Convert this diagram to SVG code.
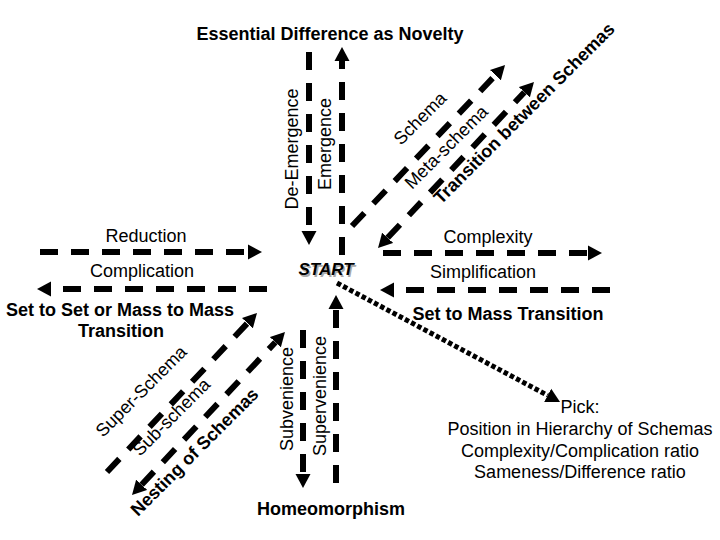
<svg xmlns="http://www.w3.org/2000/svg" width="720" height="540" viewBox="0 0 720 540">
<defs>
<marker id="ah" markerUnits="userSpaceOnUse" markerWidth="16" markerHeight="16" viewBox="0 -8 16 16" refX="0" refY="0" orient="auto-start-reverse">
<path d="M0,-7.5 L14,0 L0,7.5 z" fill="#000"/>
</marker>
</defs>
<style>
text{font-family:"Liberation Sans",Arial,sans-serif;font-size:18px;fill:#000}
.b{font-weight:bold}
.m{text-anchor:middle}
.d{fill:none;stroke:#000;stroke-width:6;stroke-dasharray:18 13}
.dot{fill:none;stroke:#000;stroke-width:5;stroke-dasharray:4.5 2.5}
.a{marker-end:url(#ah)}
.aa{marker-start:url(#ah);marker-end:url(#ah)}
</style>
<rect width="720" height="540" fill="#fff"/>
<g id="connectors">
<line class="d a" x1="40" y1="252" x2="248" y2="252"/>
<line class="d a" x1="267" y1="289" x2="51" y2="289"/>
<line class="d a" x1="383" y1="253" x2="588" y2="253"/>
<line class="d a" x1="610" y1="290" x2="394" y2="290"/>
<line class="d a" x1="309" y1="52" x2="309" y2="231"/>
<line class="d a" x1="342" y1="255" x2="342" y2="61"/>
<line class="d a" x1="303" y1="330" x2="303" y2="474"/>
<line class="d a" x1="336" y1="483" x2="336" y2="309"/>
<line class="d a" x1="352" y1="226" x2="495.4" y2="75.2"/>
<line class="d aa" x1="387.6" y1="237.8" x2="524.4" y2="92.2"/>
<line class="d a" x1="107" y1="472" x2="247.4" y2="323.2"/>
<line class="d aa" x1="141.6" y1="484.8" x2="275.4" y2="342.2"/>
<line class="dot a" x1="337" y1="283" x2="547.7" y2="395.4"/>
</g>
<g id="title"><text class="b m" x="330" y="40">Essential Difference as Novelty</text></g>
<g id="start">
<text class="b m" x="327.5" y="276.5" style="font-style:italic;fill:#aaa;font-size:17px">START</text>
<text class="b m" x="326" y="275" style="font-style:italic;font-size:17px">START</text>
</g>
<g id="reduction"><text class="m" x="146" y="242">Reduction</text></g>
<g id="complication"><text class="m" x="142" y="277">Complication</text></g>
<g id="complexity"><text class="m" x="488" y="243">Complexity</text></g>
<g id="simplification"><text class="m" x="483" y="278">Simplification</text></g>
<g id="set-to-mass"><text class="b m" x="508" y="320">Set to Mass Transition</text></g>
<g id="set-to-set">
<text class="b m" x="120" y="316">Set to Set or Mass to Mass</text>
<text class="b m" x="121" y="337">Transition</text>
</g>
<g id="homeomorphism"><text class="b m" x="331" y="515">Homeomorphism</text></g>
<g id="pick">
<text class="m" x="580" y="413">Pick:</text>
<text class="m" x="580" y="435">Position in Hierarchy of Schemas</text>
<text class="m" x="580" y="457">Complexity/Complication ratio</text>
<text class="m" x="580" y="478">Sameness/Difference ratio</text>
</g>
<g id="de-emergence"><text class="m" transform="translate(298,149) rotate(-90)">De-Emergence</text></g>
<g id="emergence"><text class="m" transform="translate(331,144) rotate(-90)">Emergence</text></g>
<g id="subvenience"><text class="m" transform="translate(293,399) rotate(-90)">Subvenience</text></g>
<g id="supervenience"><text class="m" transform="translate(326,396) rotate(-90)">Supervenience</text></g>
<g id="schema"><text transform="translate(401,146) rotate(-45)">Schema</text></g>
<g id="meta-schema"><text transform="translate(412,190) rotate(-45)">Meta-schema</text></g>
<g id="transition-between"><text class="b" transform="translate(441,205) rotate(-45)">Transition between Schemas</text></g>
<g id="super-schema"><text transform="translate(103,438) rotate(-45)">Super-Schema</text></g>
<g id="sub-schema"><text transform="translate(140,457) rotate(-45)">Sub-schema</text></g>
<g id="nesting"><text class="b" transform="translate(138,517) rotate(-45)">Nesting of Schemas</text></g>
</svg>
